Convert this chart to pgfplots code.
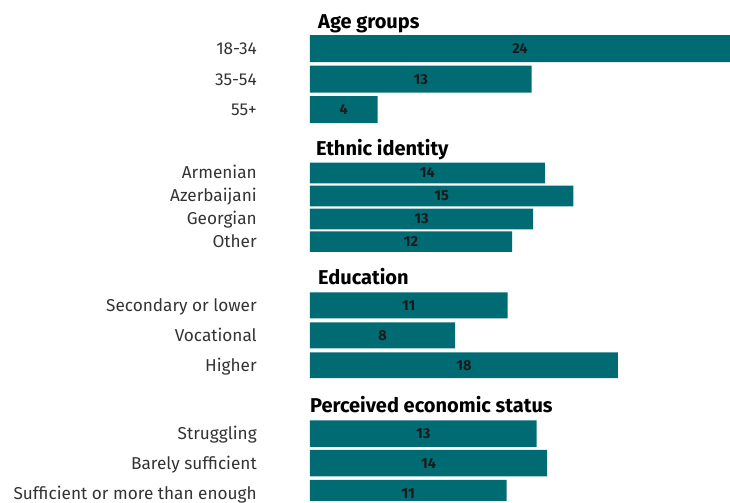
\documentclass[border=0pt]{standalone}
\usepackage{fontspec}
\setmainfont{Fira Sans}
\usepackage{pgfplots}
\usepackage{pgfplotstable}
\pgfplotsset{compat=1.18}
\definecolor{barc}{HTML}{006B73}
\definecolor{labc}{HTML}{333333}
\definecolor{valc}{HTML}{1A1A1A}
\tikzset{hd/.style={anchor=base west, font=\bfseries\fontsize{20}{23}\selectfont, text=black, inner sep=0pt}}

\pgfplotstableread{
y x lab
48.7 24 24
79.2 12.67 13
109.7 3.87 4
}\agetab
\pgfplotstableread{
y x lab
173 13.43 14
196 15.05 15
219 12.76 13
241.7 11.56 12
}\ethtab
\pgfplotstableread{
y x lab
305.3 11.3 11
335.3 8.3 8
365.3 17.6 18
}\edutab
\pgfplotstableread{
y x lab
433.7 12.95 13
463.3 13.56 14
493.3 11.24 11
}\ecotab

\begin{document}
\begin{tikzpicture}
\begin{axis}[
  scale only axis, width=420pt, height=501pt,
  xmin=0, xmax=24, ymin=0, ymax=501, y dir=reverse,
  clip mode=individual,
  axis line style={draw=none}, major tick length=0pt,
  xtick=\empty,
  ytick={48.7,79.2,109.7,173,196,219,241.7,305.3,335.3,365.3,433.7,463.3,493.3},
  yticklabels={18-34,35-54,55+,Armenian,Azerbaijani,Georgian,Other,Secondary or lower,Vocational,Higher,Struggling,Barely sufficient,Sufficient or more than enough},
  yticklabel style={font=\fontsize{17.2}{20}\selectfont, text=labc, anchor=base east, inner sep=0pt, xshift=-53pt, yshift=-6pt},
  lbl/.style={draw=none, mark=none, nodes near coords, point meta=explicit symbolic,
    every node near coord/.append style={font=\bfseries\fontsize{14.5}{16}\selectfont, text=valc, anchor=center, inner sep=0pt}},
]
\addplot[xbar, bar width=27, bar shift=0pt, fill=barc, draw=none] table[x=x,y=y] {\agetab};
\addplot[xbar, bar width=20.6, bar shift=0pt, fill=barc, draw=none] table[x=x,y=y] {\ethtab};
\addplot[xbar, bar width=26, bar shift=0pt, fill=barc, draw=none] table[x=x,y=y] {\edutab};
\addplot[xbar, bar width=26.5, bar shift=0pt, fill=barc, draw=none] table[x=x,y=y] {\ecotab};
\addplot[lbl] table[x expr=\thisrow{x}/2, y=y, meta=lab] {\agetab};
\addplot[lbl] table[x expr=\thisrow{x}/2, y=y, meta=lab] {\ethtab};
\addplot[lbl] table[x expr=\thisrow{x}/2, y=y, meta=lab] {\edutab};
\addplot[lbl] table[x expr=\thisrow{x}/2, y=y, meta=lab] {\ecotab};
\node[hd] at (axis cs:0.46,29) {Age groups};
\node[hd] at (axis cs:0.34,155.5) {Ethnic identity};
\node[hd] at (axis cs:0.46,285) {Education};
\node[hd] at (axis cs:0,413) {Perceived economic status};
\end{axis}
\path (current axis.south west) ++(-310pt,0) coordinate (bl);
\path[use as bounding box] (bl) rectangle (current axis.north east);
\end{tikzpicture}
\end{document}
